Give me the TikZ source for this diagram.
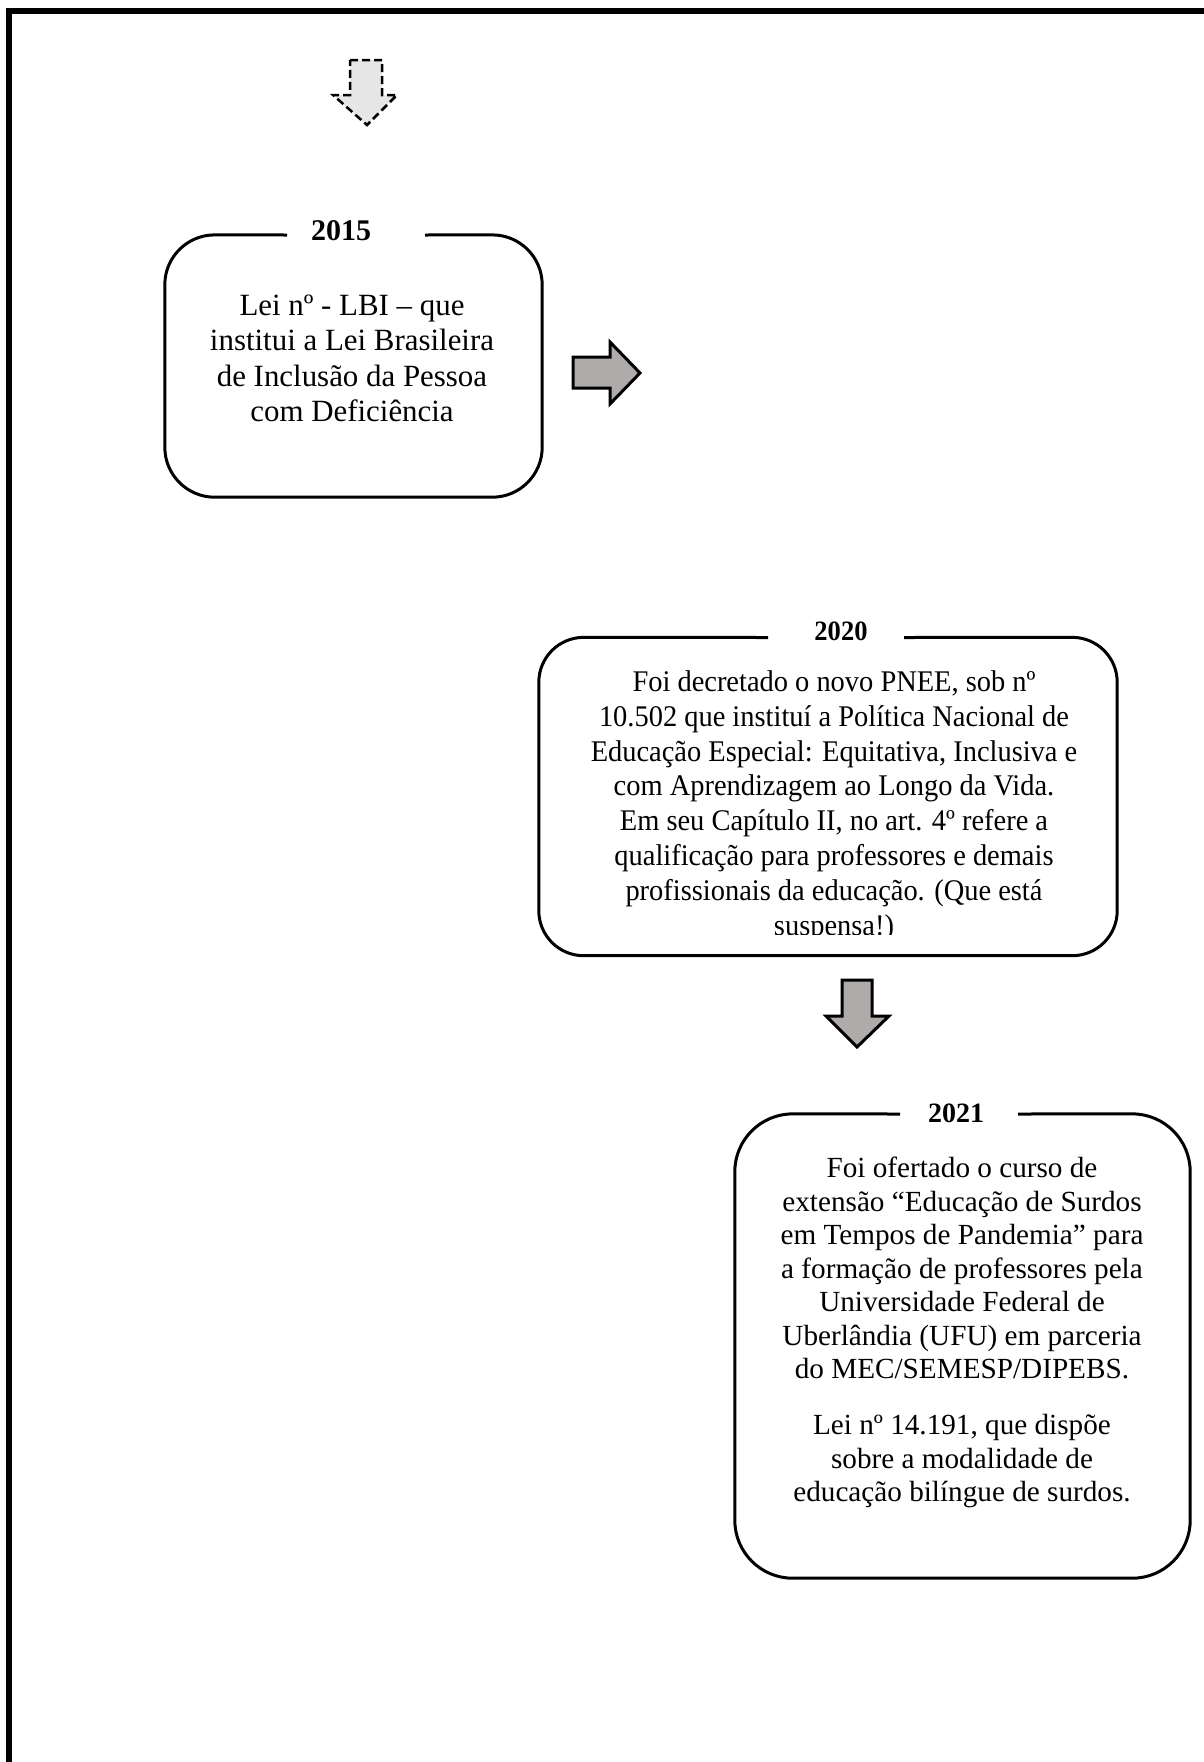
\documentclass[tikz,border=0pt]{standalone}
\usepackage{fontspec}
\setmainfont{Liberation Serif}
\usepackage{graphicx}
\definecolor{arrowgray}{HTML}{AFABAB}
\definecolor{lightarrow}{HTML}{E7E6E6}
\begin{document}
\begin{tikzpicture}[x=1pt,y=-1pt,
  boxline/.style={line width=3pt},
  blockarrow/.style={line width=3pt, fill=arrowgray, line join=miter},
  yearlabel/.style={anchor=base, inner sep=0pt},
  boxtext/.style={anchor=north, inner sep=0pt},
  boxarea/.style={inner sep=0pt, draw=none}
]
\useasboundingbox (0,0) rectangle (1203,1762);
% page frame
\draw[line width=6pt, line join=miter] (9,1775) -- (9,11) -- (1215,11);

% ---------- 2015 ----------
\node[boxarea, minimum width=377pt, minimum height=262pt] (b15) at (353.5,366) {};
\coordinate (g15a) at (287,235);
\coordinate (g15b) at (425,235);
\draw[boxline, rounded corners=50pt] (g15b) -- (b15.north east) -- (b15.south east) -- (b15.south west) -- (b15.north west) -- (g15a);
\node[yearlabel, font=\bfseries\fontsize{30}{36}\selectfont] (y15) at (341,240) {2015};
\node[boxtext, font=\fontsize{30.9}{35.5}\selectfont] (t15) at (352,290.2)
  {\begin{tabular}{@{}c@{}}Lei nº - LBI – que\\ institui a Lei Brasileira\\ de Inclusão da Pessoa\\ com Deficiência\end{tabular}};

% ---------- 2020 ----------
\node[boxarea, minimum width=578pt, minimum height=318pt] (b20) at (828,796.5) {};
\coordinate (g20a) at (768,637.5);
\coordinate (g20b) at (904,637.5);
\draw[boxline, rounded corners=45pt] (g20b) -- (b20.north east) -- (b20.south east) -- (b20.south west) -- (b20.north west) -- (g20a);
\node[yearlabel, font=\bfseries\fontsize{28}{33}\selectfont] (y20) at (841,640) {\scalebox{0.948}[1]{2020}};
\begin{scope}
\clip (542,641) rectangle (1114,934.5);
\node[boxtext, font=\fontsize{30}{34.8}\selectfont] (t20) at (834,667)
  {\scalebox{0.948}[1]{\begin{tabular}{@{}c@{}}Foi decretado o novo PNEE, sob nº\\ 10.502 que instituí a Política Nacional de\\ Educação Especial: Equitativa, Inclusiva e\\ com Aprendizagem ao Longo da Vida.\\ Em seu Capítulo II, no art. 4º refere a\\ qualificação para professores e demais\\ profissionais da educação. (Que está\\ suspensa!)\end{tabular}}};
\end{scope}

% ---------- 2021 ----------
\node[boxarea, minimum width=455pt, minimum height=464pt] (b21) at (962.5,1346) {};
\coordinate (g21a) at (900,1114);
\coordinate (g21b) at (1018,1114);
\draw[boxline, rounded corners=58pt] (g21b) -- (b21.north east) -- (b21.south east) -- (b21.south west) -- (b21.north west) -- (g21a);
\node[yearlabel, font=\bfseries\fontsize{28}{34}\selectfont] (y21) at (956,1122) {2021};
\node[boxtext, font=\fontsize{29.2}{33.5}\selectfont] (t21) at (962,1154)
  {\begin{tabular}{@{}c@{}}Foi ofertado o curso de\\ extensão “Educação de Surdos\\ em Tempos de Pandemia” para\\ a formação de professores pela\\ Universidade Federal de\\ Uberlândia (UFU) em parceria\\ do MEC/SEMESP/DIPEBS.\\[22.5pt] Lei nº 14.191, que dispõe\\ sobre a modalidade de\\ educação bilíngue de surdos.\end{tabular}};

% ---------- block arrows ----------
\draw[line width=2.5pt, dash pattern=on 8pt off 4pt, fill=lightarrow, line join=miter]
  (350,60) -- (382,60) -- (382,95) -- (397,95) -- (367,125) -- (333,95) -- (350,95) -- cycle;
\draw[blockarrow]
  (573,357) -- (610,357) -- (610,342) -- (640,373) -- (610,404) -- (610,388) -- (573,388) -- cycle;
\draw[blockarrow]
  (842,980) -- (872,980) -- (872,1016) -- (889,1016) -- (857,1047) -- (826,1016) -- (842,1016) -- cycle;
\end{tikzpicture}
\end{document}
